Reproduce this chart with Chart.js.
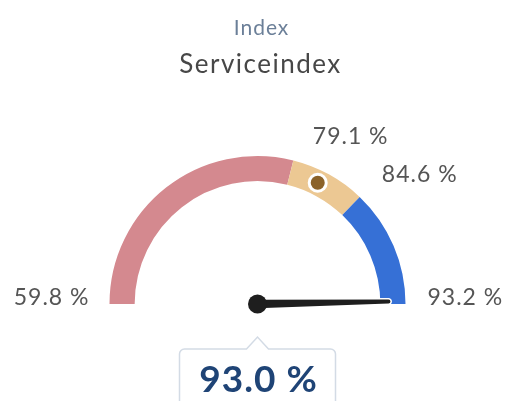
<!DOCTYPE html>
<html><head><meta charset="utf-8">
<script src="https://cdn.jsdelivr.net/npm/chart.js@4"></script>
<style>html,body{margin:0;padding:0;background:#fff;overflow:hidden}canvas{display:block}</style>
</head><body>
<canvas id="c" width="508" height="401"></canvas>
<script>
const bandStops = [59.8, 79.1, 84.6, 93.2];
const bandColors = ['#d4898f', '#ecc893', '#3670d6'];
const currentValue = 93.0;
const markerValue = 81.4;
const titleText = 'Index';
const subtitleText = 'Serviceindex';
const unit = ' %';

const bandSizes = bandStops.slice(1).map((v, i) => +(v - bandStops[i]).toFixed(2));
const fmt = v => v.toFixed(1) + unit;

function valueAngle(meta, v) {
  const first = meta.data[0], last = meta.data[meta.data.length - 1];
  const a0 = first.startAngle, a1 = last.endAngle;
  const min = bandStops[0], max = bandStops[bandStops.length - 1];
  return a0 + (a1 - a0) * (v - min) / (max - min);
}

const gaugePlugin = {
  id: 'gauge',
  afterDatasetsDraw(chart) {
    const ctx = chart.ctx;
    const meta = chart.getDatasetMeta(0);
    const arc = meta.data[0];
    const cx = arc.x, cy = arc.y, ro = arc.outerRadius, ri = arc.innerRadius;
    ctx.save();
    // titles
    ctx.letterSpacing = '1px';
    ctx.textAlign = 'center';
    ctx.textBaseline = 'alphabetic';
    ctx.font = '21px Lato';
    ctx.fillStyle = '#6b7f98';
    ctx.fillText(titleText, cx + 4, 35);
    ctx.font = '26px Lato';
    ctx.fillStyle = '#474747';
    ctx.letterSpacing = '1.5px';
    ctx.fillText(subtitleText, cx + 3, 73);

    // marker
    const am = valueAngle(meta, markerValue);
    const rm = (ro + ri) / 2;
    const mx = cx + rm * Math.cos(am), my = cy + rm * Math.sin(am);
    ctx.beginPath(); ctx.arc(mx, my, 10, 0, 2 * Math.PI); ctx.fillStyle = '#ffffff'; ctx.fill();
    ctx.beginPath(); ctx.arc(mx, my, 7, 0, 2 * Math.PI); ctx.fillStyle = '#8b6229'; ctx.fill();

    // stop labels
    ctx.font = '23px Lato';
    ctx.fillStyle = '#555555';
    ctx.letterSpacing = '1px';
    bandStops.forEach((v, i) => {
      const a = valueAngle(meta, v);
      if (i === 0) {
        ctx.textAlign = 'right'; ctx.textBaseline = 'alphabetic';
        ctx.fillText(fmt(v), cx - ro - 20, cy + 1);
      } else if (i === bandStops.length - 1) {
        ctx.textAlign = 'left'; ctx.textBaseline = 'alphabetic';
        ctx.fillText(fmt(v), cx + ro + 22, cy + 1);
      } else {
        ctx.textAlign = 'left'; ctx.textBaseline = 'middle';
        const r = ro + 6;
        ctx.fillText(fmt(v), cx + r * Math.cos(a) + 18, cy + r * Math.sin(a) - 18);
      }
    });

    // needle
    const an = valueAngle(meta, currentValue);
    const len = ro - 17;
    const dx = Math.cos(an), dy = Math.sin(an);
    const px = -dy, py = dx;
    const wb = 4.2, wt = 2;
    ctx.beginPath();
    ctx.moveTo(cx + px * wb, cy + py * wb);
    ctx.lineTo(cx + dx * len + px * wt, cy + dy * len + py * wt);
    ctx.arc(cx + dx * len, cy + dy * len, wt, an + Math.PI / 2, an - Math.PI / 2, true);
    ctx.lineTo(cx - px * wb, cy - py * wb);
    ctx.closePath();
    ctx.strokeStyle = '#ffffff'; ctx.lineWidth = 3; ctx.stroke();
    ctx.fillStyle = '#1e1e1e'; ctx.fill();
    ctx.beginPath(); ctx.arc(cx, cy, 9.5, 0, 2 * Math.PI);
    ctx.fillStyle = '#1e1e1e'; ctx.fill();

    // value box
    const bx0 = cx - 78, bx1 = cx + 78, by = cy + 45, rr = 5, apexY = cy + 33, hw = 11;
    ctx.beginPath();
    ctx.moveTo(bx0, chart.height + 10);
    ctx.lineTo(bx0, by + rr);
    ctx.arcTo(bx0, by, bx0 + rr, by, rr);
    ctx.lineTo(cx - hw, by);
    ctx.lineTo(cx, apexY);
    ctx.lineTo(cx + hw, by);
    ctx.lineTo(bx1 - rr, by);
    ctx.arcTo(bx1, by, bx1, by + rr, rr);
    ctx.lineTo(bx1, chart.height + 10);
    ctx.fillStyle = '#ffffff'; ctx.fill();
    ctx.strokeStyle = '#d3dbe5'; ctx.lineWidth = 1.5; ctx.stroke();
    ctx.font = 'bold 37px Lato';
    ctx.fillStyle = '#1f4476';
    ctx.textAlign = 'center'; ctx.textBaseline = 'alphabetic';
    ctx.letterSpacing = '1px';
    ctx.fillText(fmt(currentValue), cx + 1, cy + 88);
    ctx.restore();
  }
};

new Chart(document.getElementById('c'), {
  type: 'doughnut',
  data: {
    labels: bandStops.slice(1).map(fmt),
    datasets: [{ data: bandSizes, backgroundColor: bandColors, borderWidth: 0 }]
  },
  options: {
    responsive: false,
    animation: false,
    events: [],
    rotation: -90,
    circumference: 180,
    cutout: '83%',
    radius: 148,
    layout: { padding: { top: 100, bottom: 41, left: 7, right: 0 } },
    plugins: { legend: { display: false }, tooltip: { enabled: false } }
  },
  plugins: [gaugePlugin]
});
</script>
</body></html>
